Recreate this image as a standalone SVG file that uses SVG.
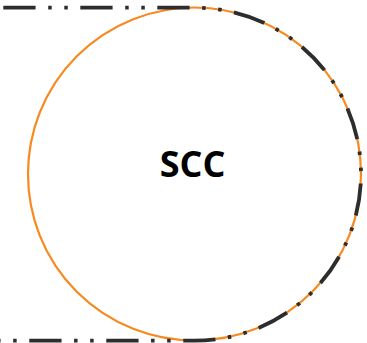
<svg xmlns="http://www.w3.org/2000/svg" width="367" height="343" viewBox="0 0 367 343">
<style>
.conn{fill:none;stroke:#2d2d2d;stroke-width:3.8;stroke-dasharray:32.3 12.6 3.5 12.6 3.5 12.5}
.node{fill:none;stroke:#f7891f;stroke-width:2.2}
.lbl{font-family:"Open Sans","Liberation Sans",sans-serif;font-weight:bold;font-size:36px;fill:#000;text-anchor:middle}
</style>
<rect width="367" height="343" fill="#fff"/>
<g id="scc">
<circle class="node" cx="194.5" cy="174" r="166.5"/>
<text class="lbl" x="192.5" y="176.5">SCC</text>
</g>
<g id="connectors">
<path class="conn" d="M3.3 7.7 H194.5 A166.5 166.5 0 0 1 194.5 340.7 H-80"/>
</g>
</svg>
